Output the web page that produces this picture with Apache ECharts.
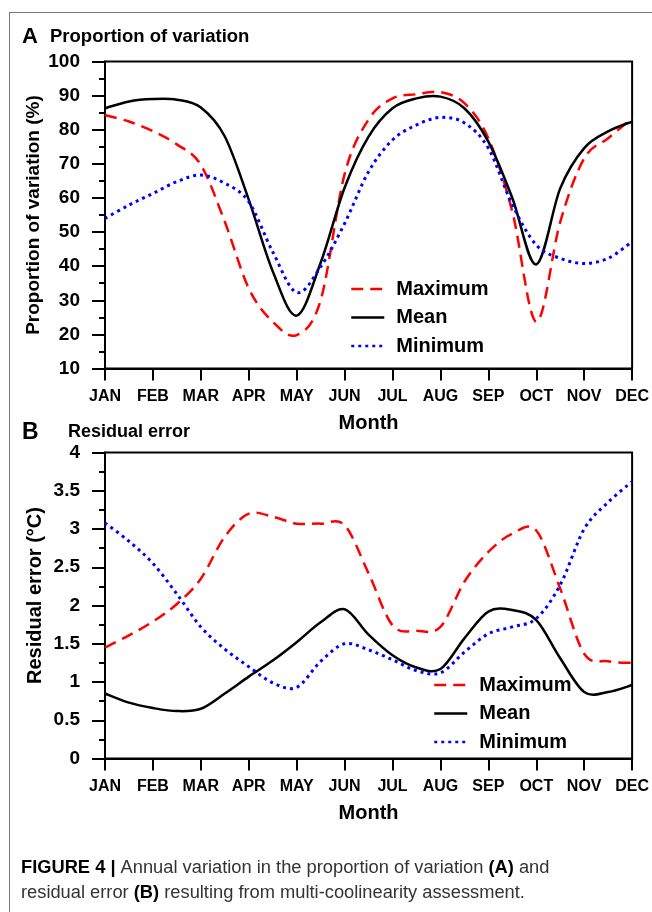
<!DOCTYPE html>
<html>
<head>
<meta charset="utf-8">
<title>Figure 4</title>
<script src="https://cdn.jsdelivr.net/npm/echarts@6.0.0/dist/echarts.min.js"></script>
<style>
  html, body { margin: 0; padding: 0; background: #fff; }
  #wrap { position: relative; width: 652px; height: 912px; }
  #frame { position: absolute; left: 9px; top: 12px; right: 0; bottom: 0; border-top: 1px solid #777; border-left: 1px solid #777; }
  #chart { position: absolute; left: 0; top: 0; width: 652px; height: 912px; }
</style>
</head>
<body>
<div id="wrap">
  <div id="frame"></div>
  <div id="chart"></div>
</div>
<script>
// month labels and positions (in months from JAN, half-month steps)
const months = ['JAN', 'FEB', 'MAR', 'APR', 'MAY', 'JUN', 'JUL', 'AUG', 'SEP', 'OCT', 'NOV', 'DEC'];
const xPos = [0, 0.5, 1, 1.5, 2, 2.5, 3, 3.5, 4, 4.5, 5, 5.5, 6, 6.5, 7, 7.5, 8, 8.5, 9, 9.5, 10, 10.5, 11];
const names = ['Maximum', 'Mean', 'Minimum'];

// (A) proportion of variation (%)
const maxA  = [84.3, 82.4, 79.6, 75.7, 69.7, 53, 33.5, 23.7, 19.8, 30, 67, 83, 89.2, 90.4, 91, 87.8, 77.5, 56, 23.7, 53, 71.6, 77.5, 83.4];
const meanA = [86.3, 88.3, 89.0, 88.8, 86.5, 78, 59.5, 38.5, 25.5, 41, 63, 78, 86.3, 89.2, 89.7, 86.3, 76.5, 60, 40.5, 62.8, 74.6, 79.5, 82.4];
const minA  = [54, 57.9, 61.3, 64.8, 66.7, 64.3, 58.9, 44.2, 32.3, 39.8, 52.5, 67.7, 77, 81.4, 83.6, 82, 74.6, 58, 46.2, 42.3, 40.8, 42.3, 47.2];

// (B) residual error (°C)
const maxB  = [1.45, 1.61, 1.79, 2.02, 2.35, 2.9, 3.2, 3.16, 3.07, 3.07, 3.05, 2.42, 1.74, 1.67, 1.72, 2.31, 2.70, 2.94, 2.98, 2.22, 1.37, 1.27, 1.25];
const meanB = [0.85, 0.73, 0.66, 0.62, 0.65, 0.85, 1.07, 1.28, 1.52, 1.78, 1.95, 1.62, 1.35, 1.19, 1.17, 1.57, 1.92, 1.94, 1.81, 1.31, 0.87, 0.87, 0.96];
const minB  = [3.08, 2.84, 2.55, 2.15, 1.72, 1.43, 1.2, 0.99, 0.93, 1.27, 1.5, 1.42, 1.29, 1.15, 1.12, 1.39, 1.63, 1.72, 1.83, 2.27, 3.0, 3.35, 3.62];

const FONT = "'Liberation Sans', Arial, sans-serif";

const lineStyles = {
    Maximum: { color: '#ff0000', width: 2.5, type: [12, 7] },
    Mean: { color: '#000000', width: 2.5, type: 'solid' },
    Minimum: { color: '#0000ff', width: 3, type: [3, 4] }
};

const zip = (vals) => xPos.map((x, i) => [x, vals[i]]);

// empty line series, only there so the legend shows the line styles
const legendSeries = (name) => ({
    name: name,
    type: 'line',
    symbol: 'none',
    color: lineStyles[name].color,
    lineStyle: lineStyles[name],
    data: []
});

// catmull-rom path through pixel points
const splinePath = (p) => {
    let d = 'M' + p[0][0] + ' ' + p[0][1];
    for (let i = 0; i < p.length - 1; i++) {
        const p0 = p[i - 1] || p[i];
        const p1 = p[i];
        const p2 = p[i + 1];
        const p3 = p[i + 2] || p[i + 1];
        const c1x = p1[0] + (p2[0] - p0[0]) / 6;
        const c1y = p1[1] + (p2[1] - p0[1]) / 6;
        const c2x = p2[0] - (p3[0] - p1[0]) / 6;
        const c2y = p2[1] - (p3[1] - p1[1]) / 6;
        d += ' C' + c1x + ' ' + c1y + ' ' + c2x + ' ' + c2y + ' ' + p2[0] + ' ' + p2[1];
    }
    return d;
};

// smooth curve through the points, positioned by the axes (api.coord)
const mkCurve = (name, vals, idx) => {
    const ls = lineStyles[name];
    const pts = zip(vals);
    return {
        name: name,
        type: 'custom',
        xAxisIndex: idx,
        yAxisIndex: idx,
        data: pts,
        renderItem: (params, api) => {
            if (params.dataIndex !== 0) return null;
            return {
                type: 'path',
                shape: { pathData: splinePath(pts.map((p) => api.coord(p))) },
                style: {
                    fill: null,
                    stroke: ls.color,
                    lineWidth: ls.width,
                    lineDash: ls.type === 'solid' ? null : ls.type
                },
                silent: true
            };
        }
    };
};

const boldText = (size) => ({ fontSize: size, fontWeight: 'bold', color: '#000', fontFamily: FONT });

const monthAxis = (idx) => ({
    type: 'value',
    gridIndex: idx,
    min: 0,
    max: 11,
    interval: 1,
    name: 'Month',
    nameLocation: 'middle',
    nameGap: 45,
    nameMoveOverlap: false,
    nameTextStyle: boldText(20),
    axisLine: { lineStyle: { color: '#000', width: 2 } },
    axisTick: { length: 12, lineStyle: { color: '#000', width: 2 } },
    axisLabel: Object.assign({ margin: 20, formatter: (v) => months[v] }, boldText(16)),
    splitLine: { show: false }
});

const valueAxis = (idx, min, max, interval, name, gap, nameStyle) => ({
    type: 'value',
    gridIndex: idx,
    min: min,
    max: max,
    interval: interval,
    name: name,
    nameLocation: 'middle',
    nameGap: gap,
    nameRotate: 90,
    nameMoveOverlap: false,
    nameTextStyle: nameStyle,
    axisLine: { show: true, lineStyle: { color: '#000', width: 2 } },
    axisTick: { show: true, length: 13, lineStyle: { color: '#000', width: 2 } },
    minorTick: { show: true, splitNumber: 2, length: 6, lineStyle: { color: '#000', width: 2 } },
    axisLabel: Object.assign({ margin: 25 }, boldText(19)),
    splitLine: { show: false }
});

const legendAt = (left, top) => ({
    orient: 'vertical',
    left: left,
    top: top,
    padding: 0,
    itemWidth: 33,
    itemHeight: 14,
    itemGap: 8.5,
    selectedMode: false,
    data: names,
    itemStyle: { opacity: 0 },
    lineStyle: { width: 2.5 },
    textStyle: Object.assign({ lineHeight: 20, padding: [0, 0, 0, 7] }, boldText(20))
});

const chart = echarts.init(document.getElementById('chart'));
chart.setOption({
    backgroundColor: 'transparent',
    animation: false,
    title: [
        { text: 'A', left: 22, top: 26, padding: 0, textStyle: boldText(22) },
        { text: 'Proportion of variation', left: 50, top: 27, padding: 0, textStyle: boldText(18.5) },
        { text: 'B', left: 22, top: 421, padding: 0, textStyle: boldText(23) },
        { text: 'Residual error', left: 68, top: 423, padding: 0, textStyle: boldText(18) },
        {
            left: 21,
            top: 855,
            padding: 0,
            text: '{b|FIGURE 4 |} Annual variation in the proportion of variation {b|(A)} and\nresidual error {b|(B)} resulting from multi-coolinearity assessment.',
            textStyle: {
                fontSize: 18.3,
                fontWeight: 'normal',
                fontFamily: FONT,
                color: '#333',
                lineHeight: 25,
                rich: {
                    b: { fontSize: 18.3, fontWeight: 'bold', fontFamily: FONT, color: '#000', lineHeight: 25 }
                }
            }
        }
    ],
    legend: [legendAt(350, 279), legendAt(433, 675)],
    grid: [
        { left: 105, right: 18.5, top: 61.5, bottom: 543.5, show: true, borderColor: '#000', borderWidth: 2 },
        { left: 105, right: 18.5, top: 452.5, bottom: 153.5, show: true, borderColor: '#000', borderWidth: 2 }
    ],
    xAxis: [monthAxis(0), monthAxis(1)],
    yAxis: [
        valueAxis(0, 10, 100, 10, 'Proportion of variation (%)', 62, boldText(19)),
        valueAxis(1, 0, 4, 0.5, 'Residual error (°C)', 60, Object.assign({ padding: [0, 0, 0, 20] }, boldText(20)))
    ],
    series: [
        legendSeries('Maximum'),
        legendSeries('Mean'),
        legendSeries('Minimum'),
        mkCurve('Maximum', maxA, 0),
        mkCurve('Mean', meanA, 0),
        mkCurve('Minimum', minA, 0),
        mkCurve('Maximum', maxB, 1),
        mkCurve('Mean', meanB, 1),
        mkCurve('Minimum', minB, 1)
    ]
});
</script>
</body>
</html>
